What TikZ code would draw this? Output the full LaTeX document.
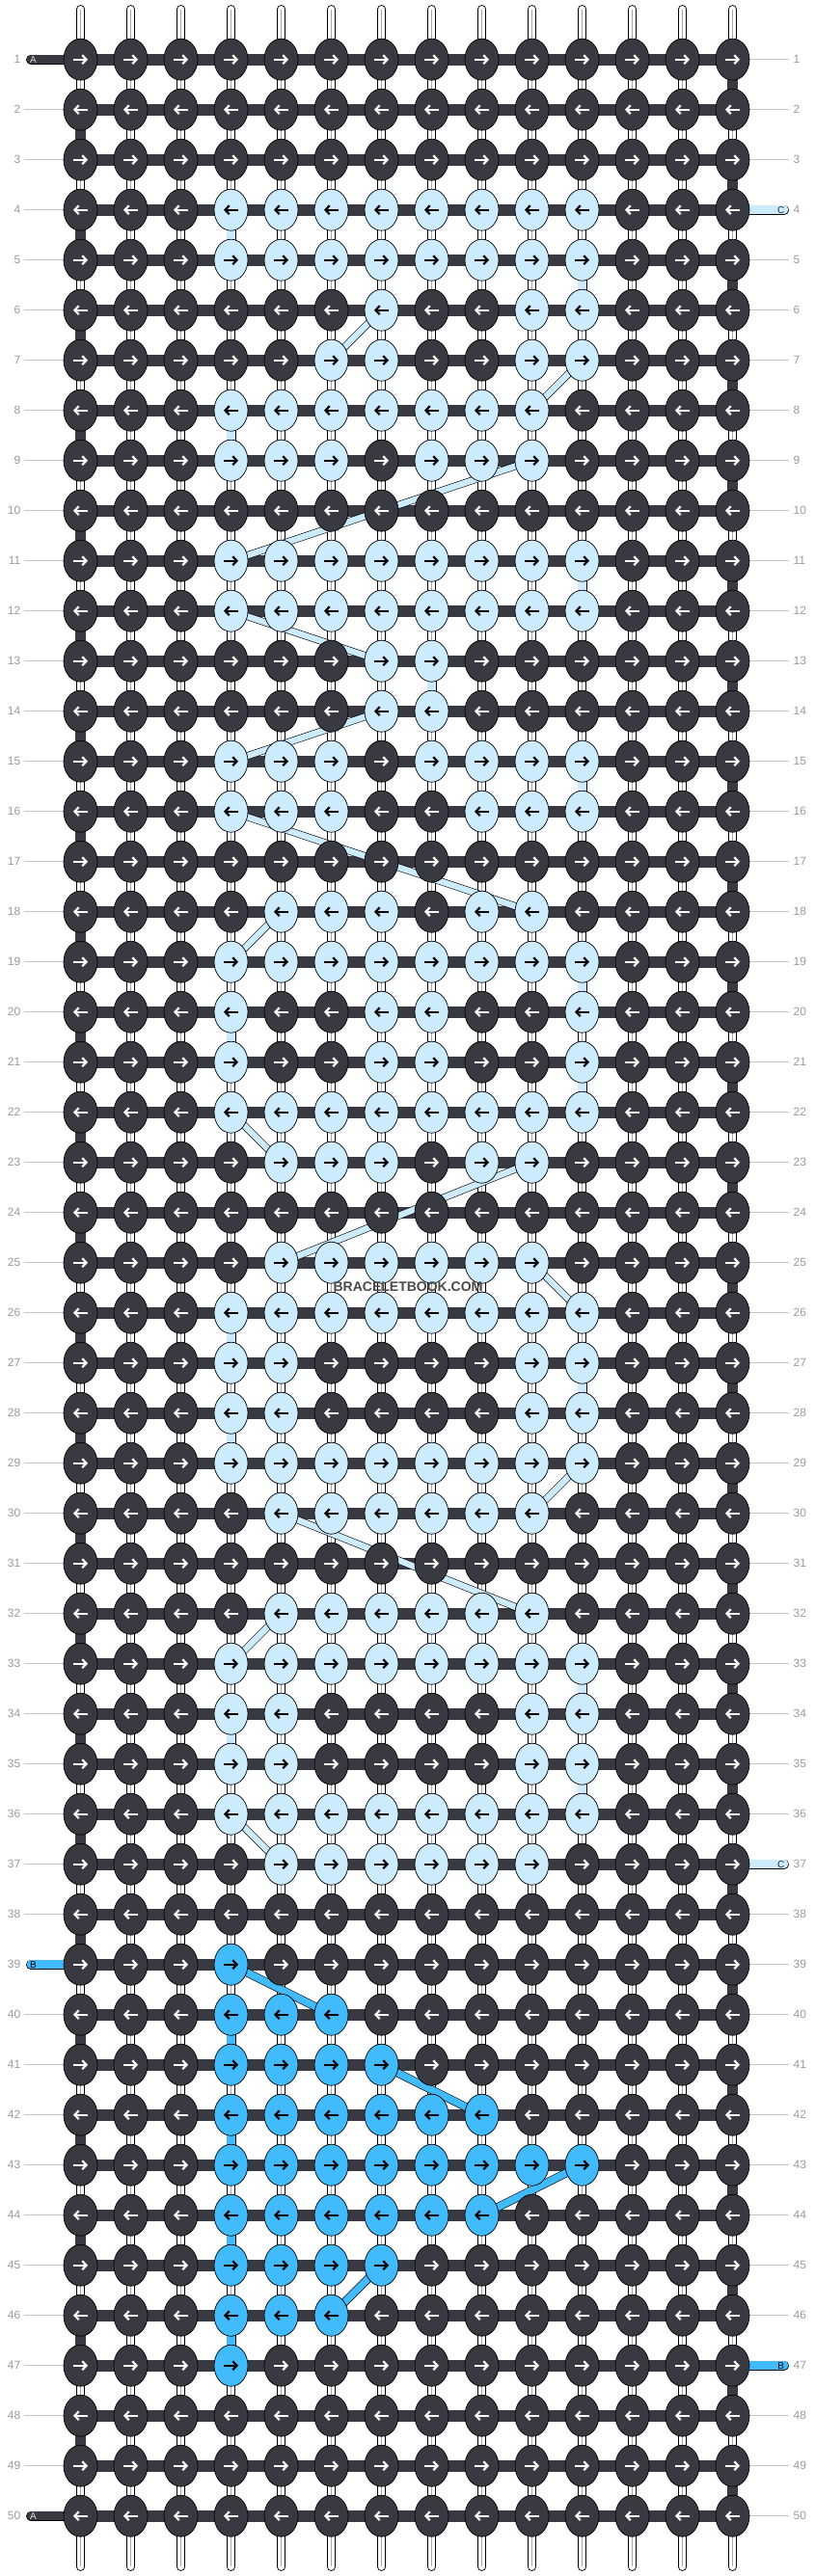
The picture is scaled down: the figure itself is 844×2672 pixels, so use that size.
\documentclass[tikz,border=0pt]{standalone}
\usepackage{fontspec}
\setmainfont{Liberation Sans}
\usetikzlibrary{shapes.geometric,arrows.meta}
\definecolor{dk}{HTML}{393A41}
\definecolor{lt}{HTML}{CCEBFD}
\definecolor{br}{HTML}{41BBFC}
\definecolor{numgray}{HTML}{9A9A9A}
\definecolor{linegray}{HTML}{C4C4C4}
\definecolor{wmgray}{HTML}{4A4A4A}
\definecolor{tabA}{HTML}{DDDDDD}
\pgfdeclarelayer{bg}
\pgfdeclarelayer{mid}
\pgfsetlayers{bg,mid,main}

\def\bbrow#1#2{\expandafter\edef\csname bbrow#1\endcsname{{#2}}}
\def\bbZ{0,0,0,0,0,0,0,0,0,0,0,0,0,0}
\def\bbF{0,0,0,1,1,1,1,1,1,1,1,0,0,0}
\def\bbM{0,0,0,0,1,1,1,1,1,1,0,0,0,0}
\def\bbE{0,0,0,1,1,0,0,0,0,1,1,0,0,0}
\bbrow{1}{\bbZ}\bbrow{2}{\bbZ}\bbrow{3}{\bbZ}\bbrow{4}{\bbF}\bbrow{5}{\bbF}
\bbrow{6}{0,0,0,0,0,0,1,0,0,1,1,0,0,0}
\bbrow{7}{0,0,0,0,0,1,1,0,0,1,1,0,0,0}
\bbrow{8}{0,0,0,1,1,1,1,1,1,1,0,0,0,0}
\bbrow{9}{0,0,0,1,1,1,0,1,1,1,0,0,0,0}
\bbrow{10}{\bbZ}\bbrow{11}{\bbF}\bbrow{12}{\bbF}
\bbrow{13}{0,0,0,0,0,0,1,1,0,0,0,0,0,0}
\bbrow{14}{0,0,0,0,0,0,1,1,0,0,0,0,0,0}
\bbrow{15}{0,0,0,1,1,1,0,1,1,1,1,0,0,0}
\bbrow{16}{0,0,0,1,1,1,0,0,1,1,1,0,0,0}
\bbrow{17}{\bbZ}
\bbrow{18}{0,0,0,0,1,1,1,0,1,1,0,0,0,0}
\bbrow{19}{\bbF}
\bbrow{20}{0,0,0,1,0,0,1,1,0,0,1,0,0,0}
\bbrow{21}{0,0,0,1,0,0,1,1,0,0,1,0,0,0}
\bbrow{22}{\bbF}
\bbrow{23}{0,0,0,0,1,1,1,0,1,1,0,0,0,0}
\bbrow{24}{\bbZ}\bbrow{25}{\bbM}\bbrow{26}{\bbF}\bbrow{27}{\bbE}\bbrow{28}{\bbE}
\bbrow{29}{\bbF}\bbrow{30}{\bbM}\bbrow{31}{\bbZ}\bbrow{32}{\bbM}\bbrow{33}{\bbF}
\bbrow{34}{\bbE}\bbrow{35}{\bbE}\bbrow{36}{\bbF}\bbrow{37}{\bbM}\bbrow{38}{\bbZ}
\bbrow{39}{0,0,0,2,0,0,0,0,0,0,0,0,0,0}
\bbrow{40}{0,0,0,2,2,2,0,0,0,0,0,0,0,0}
\bbrow{41}{0,0,0,2,2,2,2,0,0,0,0,0,0,0}
\bbrow{42}{0,0,0,2,2,2,2,2,2,0,0,0,0,0}
\bbrow{43}{0,0,0,2,2,2,2,2,2,2,2,0,0,0}
\bbrow{44}{0,0,0,2,2,2,2,2,2,0,0,0,0,0}
\bbrow{45}{0,0,0,2,2,2,2,0,0,0,0,0,0,0}
\bbrow{46}{0,0,0,2,2,2,0,0,0,0,0,0,0,0}
\bbrow{47}{0,0,0,2,0,0,0,0,0,0,0,0,0,0}
\bbrow{48}{\bbZ}\bbrow{49}{\bbZ}\bbrow{50}{\bbZ}

\tikzset{
 knot/.style={ellipse, draw=black, line width=0.7pt, minimum width=35pt, minimum height=43pt, inner sep=0pt},
 arrowmark/.style={line width=2.2pt, -{Straight Barb[length=4.2pt,width=9pt]}},
 basestrand/.style={draw=black, line width=0.9pt, double=white, double distance=7.4pt, line cap=round},
 basemid/.style={draw=black!35, line width=0.6pt},
 hbar/.style={draw=dk, line width=12pt},
 edgebar/.style={draw=dk, line width=11pt},
 ltvert/.style={draw=black, line width=0.7pt, double=lt, double distance=8.6pt},
 ltdiag/.style={draw=black, line width=0.6pt, double=lt, double distance=6.4pt},
 brvert/.style={draw=black, line width=0.7pt, double=br, double distance=8.6pt},
 brdiag/.style={draw=black, line width=0.6pt, double=br, double distance=7.4pt},
 tabbar/.style={draw=black, line width=0.7pt, double distance=8.6pt, line cap=round},
 num/.style={text=numgray, font=\fontsize{12}{14}\selectfont, inner sep=0pt},
 tabletter/.style={font=\fontsize{10}{12}\selectfont, inner sep=0pt},
 numline/.style={draw=linegray, line width=1pt},
}

\begin{document}
\begin{tikzpicture}[x=1pt,y=-1pt]
\useasboundingbox (0,0) rectangle (844,2672);
% knots
\foreach \rr in {1,...,50}{
  \expandafter\let\expandafter\curow\csname bbrow\rr\endcsname
  \pgfmathsetmacro\yy{61.7+52*(\rr-1)}
  \foreach \cc in {1,...,14}{
    \pgfmathtruncatemacro\ci{\cc-1}
    \pgfmathtruncatemacro\kv{\curow[\ci]}
    \pgfmathsetmacro\xx{83.5+52*(\cc-1)}
    \ifcase\kv\relax \def\kf{dk}\def\ka{white}\or\def\kf{lt}\def\ka{black}\else\def\kf{br}\def\ka{black}\fi
    \node[knot, fill=\kf] (k-\rr-\cc) at (\xx,\yy) {};
    \ifodd\rr\relax
      \draw[arrowmark, draw=\ka] (\xx-7.5,\yy) -- (\xx+7.5,\yy);
    \else
      \draw[arrowmark, draw=\ka] (\xx+7.5,\yy) -- (\xx-7.5,\yy);
    \fi
  }
  \node[num, anchor=east] (ln-\rr) at (21.5,\yy) {\rr};
  \node[num, anchor=west] (rn-\rr) at (822.5,\yy) {\rr};
}
% base strands and label lines
\begin{pgfonlayer}{bg}
\foreach \cc in {1,...,14}{
  \pgfmathsetmacro\xx{83.5+52*(\cc-1)}
  \coordinate (top-\cc) at (\xx,9.7);
  \coordinate (bot-\cc) at (\xx,2662.3);
  \draw[basestrand] (top-\cc) -- (bot-\cc);
  \draw[basemid] (top-\cc) -- (bot-\cc);
}
\foreach \rr in {1,...,50}{
  \pgfmathsetmacro\yy{61.7+52*(\rr-1)}
  \pgfmathtruncatemacro\istl{(\rr==1)||(\rr==39)||(\rr==50)}
  \pgfmathtruncatemacro\istr{(\rr==4)||(\rr==37)||(\rr==47)}
  \ifnum\istl=0 \coordinate (ll-\rr) at (25,\yy); \draw[numline] (ll-\rr) -- (k-\rr-1.center); \fi
  \ifnum\istr=0 \coordinate (rl-\rr) at (818,\yy); \draw[numline] (k-\rr-14.center) -- (rl-\rr); \fi
}
\end{pgfonlayer}
% working strands
\begin{pgfonlayer}{mid}
\foreach \rr in {1,...,50} \draw[hbar] (k-\rr-1.center) -- (k-\rr-14.center);
\foreach \rr in {1,3,...,49}{
  \pgfmathtruncatemacro\rn{\rr+1}
  \draw[edgebar] (k-\rr-14.center) -- (k-\rn-14.center);
}
\foreach \rr in {2,4,...,48}{
  \pgfmathtruncatemacro\rn{\rr+1}
  \draw[edgebar] (k-\rr-1.center) -- (k-\rn-1.center);
}
\foreach \ra/\ca/\rb/\cb in {4/4/5/4, 5/11/6/11, 8/4/9/4, 11/11/12/11, 13/8/14/8, 15/11/16/11,
  19/11/20/11, 20/4/21/4, 21/11/22/11, 26/4/27/4, 27/11/28/11, 28/4/29/4, 33/11/34/11,
  34/4/35/4, 35/11/36/11}
  \draw[ltvert] (k-\ra-\ca.center) -- (k-\rb-\cb.center);
\foreach \ra/\ca/\rb/\cb in {6/7/7/6, 7/11/8/10, 9/10/11/4, 12/4/13/7, 14/7/15/4, 16/4/18/10,
  18/5/19/4, 22/4/23/5, 23/10/25/5, 25/10/26/11, 29/11/30/10, 30/5/32/10, 32/5/33/4, 36/4/37/5}
  \draw[ltdiag] (k-\ra-\ca.center) -- (k-\rb-\cb.center);
\foreach \ra/\ca/\rb/\cb in {40/4/41/4, 42/4/43/4, 44/4/45/4, 46/4/47/4}
  \draw[brvert] (k-\ra-\ca.center) -- (k-\rb-\cb.center);
\foreach \ra/\ca/\rb/\cb in {39/4/40/6, 41/7/42/9, 43/11/44/9, 45/7/46/6}
  \draw[brdiag] (k-\ra-\ca.center) -- (k-\rb-\cb.center);
% tabs
\coordinate (tab-l-1) at (32,61.7);
\coordinate (tab-l-50) at (32,2609.7);
\coordinate (tab-l-39) at (32,2037.7);
\coordinate (tab-r-4) at (813,217.7);
\coordinate (tab-r-37) at (813,1933.7);
\coordinate (tab-r-47) at (813,2453.7);
\draw[tabbar, double=dk] (tab-l-1) -- (k-1-1.center);
\draw[tabbar, double=dk] (tab-l-50) -- (k-50-1.center);
\draw[tabbar, double=br] (tab-l-39) -- (k-39-1.center);
\draw[tabbar, double=lt] (k-4-14.center) -- (tab-r-4);
\draw[tabbar, double=lt] (k-37-14.center) -- (tab-r-37);
\draw[tabbar, double=br] (k-47-14.center) -- (tab-r-47);
\end{pgfonlayer}
\node[tabletter, text=tabA] (tA-1) at (34.5,61.7) {A};
\node[tabletter, text=tabA] (tA-50) at (34.5,2609.7) {A};
\node[tabletter, text=black] (tB-39) at (34.5,2037.7) {B};
\node[tabletter, text=black!85] (tC-4) at (809.7,217.7) {C};
\node[tabletter, text=black!85] (tC-37) at (809.7,1933.7) {C};
\node[tabletter, text=black] (tB-47) at (809.7,2453.7) {B};
\node[font=\bfseries\fontsize{14}{16}\selectfont, text=wmgray, inner sep=0pt] (wm) at (423,1335) {BRACELETBOOK.COM};
\end{tikzpicture}
\end{document}
